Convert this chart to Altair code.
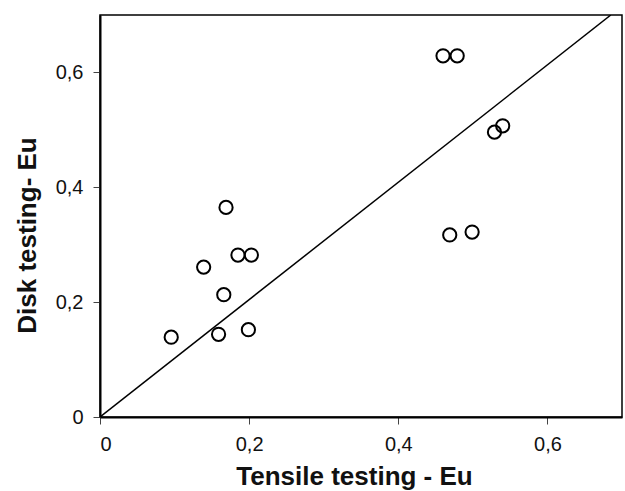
import altair as alt
import pandas as pd

# Data
tensile = [0.0955, 0.139, 0.159, 0.166, 0.169, 0.185, 0.199, 0.203,
           0.460, 0.469, 0.479, 0.499, 0.529, 0.540]
disk = [0.139, 0.261, 0.144, 0.213, 0.365, 0.282, 0.152, 0.282,
        0.629, 0.317, 0.629, 0.322, 0.496, 0.507]

line_x = [0.0, 0.685]
line_y = [0.0, 0.7]

tick_values = [0.0, 0.2, 0.4, 0.6]

pts = pd.DataFrame({"x": tensile, "y": disk})
ln = pd.DataFrame({"x": line_x, "y": line_y})

label_expr = "datum.value == 0 ? '0' : replace(format(datum.value, '.1f'), '.', ',')"

xscale = alt.Scale(domain=[0, 0.7], nice=False, zero=True)
yscale = alt.Scale(domain=[0, 0.7], nice=False, zero=True)

xaxis = alt.Axis(values=tick_values, labelExpr=label_expr, title="Tensile testing - Eu",
                 grid=False, tickSize=7, labelPadding=10, titlePadding=9,
                 titleX=254)
yaxis = alt.Axis(values=tick_values, labelExpr=label_expr, title="Disk testing-  Eu",
                 grid=False, tickSize=7, labelPadding=10, titlePadding=15,
                 titleY=220)

line = alt.Chart(ln).mark_line(color="black", strokeWidth=1.5, clip=True).encode(
    x=alt.X("x:Q", scale=xscale, axis=xaxis),
    y=alt.Y("y:Q", scale=yscale, axis=yaxis),
)

points = alt.Chart(pts).mark_point(shape="circle", filled=False, color="black",
                                   strokeWidth=2, size=175, opacity=1).encode(
    x=alt.X("x:Q", scale=xscale),
    y=alt.Y("y:Q", scale=yscale),
)

chart = alt.layer(line, points).properties(
    width=522, height=402,
    autosize=alt.AutoSizeParams(type="none"),
    padding={"left": 100, "top": 15, "right": 3, "bottom": 74},
    background="white",
).configure_view(
    stroke="black", strokeWidth=1.5
).configure_axis(
    domainColor="black", domainWidth=2,
    tickColor="#444444", tickWidth=1,
    labelFont="Liberation Sans", labelFontSize=20, labelColor="#111111",
    titleFont="Liberation Sans", titleFontSize=26, titleFontWeight="bold",
    titleColor="#111111",
)

chart.save("out.html", embed_options={"renderer": "svg", "actions": False})
